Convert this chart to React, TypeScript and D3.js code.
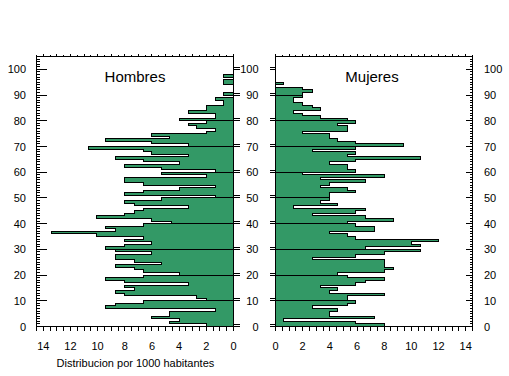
import React from "react";
import * as d3 from "d3";

const ages = d3.range(0, 101);
const hombres = [
  2.0, 4.7, 4.0, 6.0, 4.7, 4.7, 1.3, 9.4, 8.7, 6.6,
  2.0, 2.7, 8.0, 8.7, 7.3, 8.0, 3.3, 8.0, 9.4, 6.6,
  4.0, 6.6, 7.3, 8.7, 5.3, 7.3, 8.7, 8.7, 6.0, 8.7,
  9.4, 8.0, 6.0, 8.0, 6.6, 10.1, 13.4, 8.7, 9.4, 6.6,
  4.6, 6.0, 10.1, 8.0, 7.3, 6.6, 3.3, 7.3, 8.0, 5.3,
  1.3, 8.0, 6.6, 4.0, 1.3, 6.6, 8.0, 8.0, 2.0, 5.3,
  1.3, 5.3, 8.0, 4.0, 6.6, 8.7, 3.3, 6.0, 6.6, 10.7,
  3.3, 6.0, 9.4, 4.7, 6.0, 2.0, 1.3, 2.7, 3.3, 2.0,
  4.0, 1.3, 1.3, 3.3, 2.0, 2.0, 0.7, 0.7, 1.3, 0,
  0.7, 0, 0, 0, 0.7, 0.7, 0, 0.7, 0, 0, 0,
];
const mujeres = [
  8.0, 5.9, 0.6, 7.3, 4.0, 4.0, 4.6, 2.7, 5.3, 5.9,
  5.3, 5.3, 8.0, 4.0, 4.6, 3.3, 5.9, 6.6, 8.0, 5.3,
  4.6, 8.0, 8.7, 8.0, 8.0, 8.0, 2.7, 5.9, 8.0, 10.7,
  6.6, 10.7, 10.0, 12.0, 5.9, 5.3, 4.0, 7.3, 7.3, 5.9,
  5.3, 8.7, 6.6, 2.7, 5.9, 6.6, 1.3, 4.6, 3.3, 4.0,
  4.0, 4.0, 5.9, 5.3, 3.3, 4.0, 6.6, 3.3, 8.0, 2.0,
  5.9, 5.3, 5.3, 4.0, 5.9, 10.7, 5.3, 5.9, 2.7, 5.9,
  9.4, 5.9, 4.6, 4.0, 4.0, 2.0, 5.3, 5.3, 4.6, 5.9,
  5.3, 3.3, 2.0, 1.3, 3.3, 2.7, 2.0, 1.3, 1.3, 2.0,
  2.0, 2.7, 2.0, 0, 0.6, 0, 0, 0, 0, 0, 0,
];
const xTickLabels = [0, 2, 4, 6, 8, 10, 12, 14];
const yTickLabels = [0, 10, 20, 30, 40, 50, 60, 70, 80, 90, 100];
const titles = ["Hombres", "Mujeres"];
const xTitle = "Distribucion por 1000 habitantes";

const FONT = "'Liberation Sans', Arial, sans-serif";
const GREEN = "#339966";

const y = d3.scaleLinear().domain([0, 105]).range([326.5, 56.5]);
const xL = d3.scaleLinear().domain([0, 14.5]).range([233.5, 36.5]);
const xR = d3.scaleLinear().domain([0, 14.5]).range([275.5, 472.5]);

function stepPath(values: number[], x: d3.ScaleLinear<number, number>) {
  const p = d3.path();
  p.moveTo(x(0), y(0));
  values.forEach((v, a) => {
    p.lineTo(x(v), y(a));
    p.lineTo(x(v), y(a + 1));
  });
  p.lineTo(x(0), y(values.length));
  p.closePath();
  return p.toString();
}

const minorX = d3.range(0, 14.51, 0.5);
const minorY = d3.range(0, 105, 1);

function Panel({ values, x, side }: { values: number[]; x: d3.ScaleLinear<number, number>; side: "L" | "R" }) {
  const [x0, x1] = [Math.min(...x.range()), Math.max(...x.range())];
  const axisX = x(0);
  const outerX = side === "L" ? x0 : x1;
  const dirIn = side === "L" ? 1 : -1; // direction from outer edge inward
  const dirOutAxis = side === "L" ? 1 : -1; // from axis outward (away from plot)
  return (
    <g shapeRendering="crispEdges">
      <path d={stepPath(values, x)} fill={GREEN} stroke="#000" strokeWidth={1} />
      {yTickLabels.slice(1, 10).map((k) => (
        <line key={"g" + k} x1={axisX} x2={x(Math.max(values[k - 1], values[k]))} y1={y(k)} y2={y(k)} stroke="#000" />
      ))}
      <rect x={x0} y={y(105)} width={x1 - x0} height={y(0) - y(105)} fill="none" stroke="#000" />
      {minorX.map((t) => (
        <g key={"xt" + t}>
          <line x1={x(t)} x2={x(t)} y1={y(0)} y2={y(0) + 4} stroke="#000" />
          <line x1={x(t)} x2={x(t)} y1={y(105)} y2={y(105) - (t % 1 === 0 ? 3 : 2)} stroke="#000" />
        </g>
      ))}
      {minorY.map((t) => (
        <line key={"yt" + t} x1={outerX} x2={outerX + dirIn * (t % 10 === 0 ? (side === "L" ? 10 : 7) : 3)} y1={y(t)} y2={y(t)} stroke="#000" />
      ))}
      {yTickLabels.map((t) => (
        <g key={"eq" + t}>
          <line x1={axisX} x2={axisX + dirOutAxis * 6} y1={y(t)} y2={y(t)} stroke="#000" />
          <line x1={axisX} x2={axisX + dirOutAxis * 6} y1={y(t) - 2} y2={y(t) - 2} stroke="#000" />
        </g>
      ))}
    </g>
  );
}

export default function App() {
  return (
    <svg width={509} height={376} style={{ position: "absolute", left: 0, top: 0, background: "#fff" }}>
      <rect width={509} height={376} fill="#fff" />
      <Panel values={hombres} x={xL} side="L" />
      <Panel values={mujeres} x={xR} side="R" />
      <g fontFamily={FONT} fontSize={11} fill="#000">
        {yTickLabels.map((t) => (
          <g key={"yl" + t}>
            <text x={26} y={y(t) + 4} textAnchor="end">{t}</text>
            <text x={258.5} y={y(t) + 4} textAnchor="end">{t}</text>
            <text x={484} y={y(t) + 4} textAnchor="start">{t}</text>
          </g>
        ))}
        {xTickLabels.map((t) => (
          <g key={"xl" + t}>
            <text x={xL(t)} y={350} textAnchor="middle">{t}</text>
            <text x={xR(t)} y={350} textAnchor="middle">{t}</text>
          </g>
        ))}
        <text x={56.5} y={366.5}>{xTitle}</text>
      </g>
      <g fontFamily={FONT} fontSize={15} fill="#000" textAnchor="middle">
        <text x={135} y={81.5}>{titles[0]}</text>
        <text x={372} y={81.5}>{titles[1]}</text>
      </g>
    </svg>
  );
}
